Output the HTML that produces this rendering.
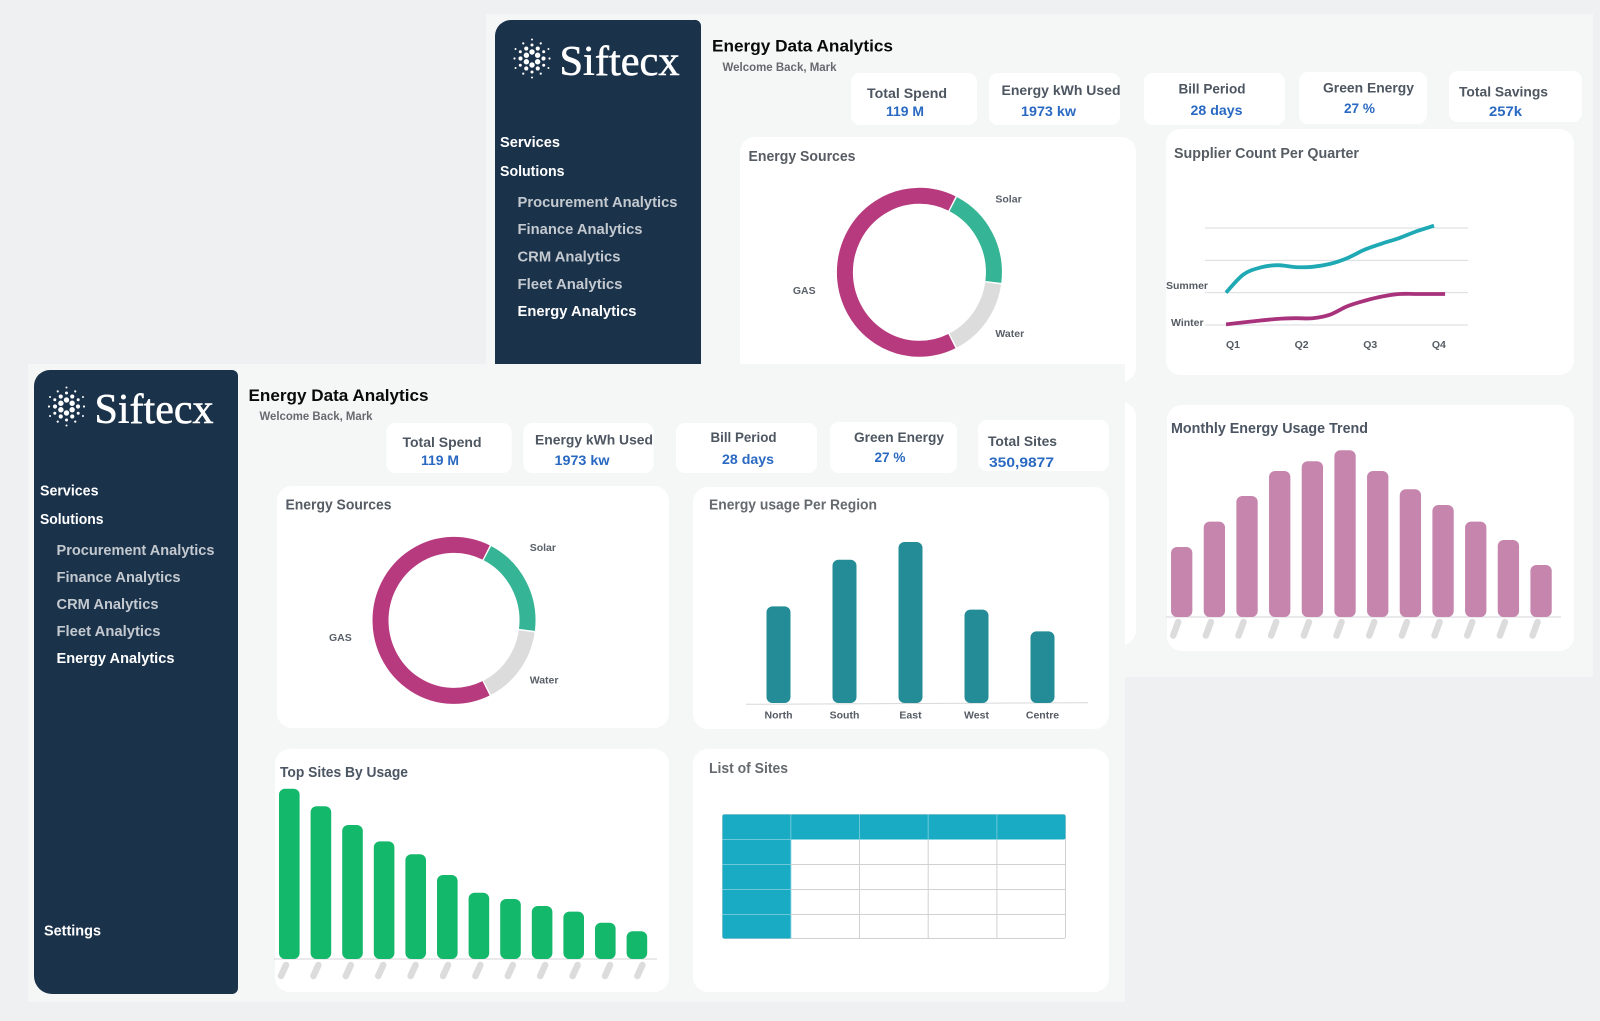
<!DOCTYPE html>
<html lang="en">
<head>
<meta charset="utf-8">
<title>Siftecx Energy Data Analytics</title>
<style>
html,body{margin:0;padding:0;background:#eef0f1;width:1600px;height:1021px;overflow:hidden}
svg{display:block}
text{font-family:"Liberation Sans",Arial,sans-serif;font-weight:700}
.nav{font-size:14.5px;fill:#ffffff}
.sub{font-size:14.5px;fill:#c3c9cf}
.on{fill:#ffffff}
.h1{font-size:17px;fill:#0a0a0a}
.wel{font-size:11.5px;fill:#666a6e}
.kl{font-size:14px;fill:#4d5661}
.kv{font-size:14px;fill:#2a69c2}
.ct{font-size:14.5px;fill:#565c63}
.dl{font-size:10.5px;fill:#5a6069}
.ax{font-size:10.5px;fill:#555b63}
.logo{font-family:"Liberation Serif",serif;font-weight:400;font-size:42px;fill:#ffffff;stroke:#ffffff;stroke-width:.55px}
</style>
</head>
<body>
<svg id="root" xmlns="http://www.w3.org/2000/svg" width="1600" height="1021" viewBox="0 0 1600 1021">
<rect x="0" y="0" width="1600" height="1021" fill="#eef0f1"/>

<!-- BACK DASHBOARD -->
<g id="back">
<rect x="486" y="14" width="1107" height="663" fill="#f5f7f7"/>
<path d="M495 365V36a16 16 0 0 1 16-16h183a6 6 0 0 1 7 6V365Z" fill="#1b324b"/>
<g id="logoBack"></g>
<text class="logo" x="559.5" y="75" textLength="120" lengthAdjust="spacingAndGlyphs">Siftecx</text>
<text class="nav" x="500" y="147" textLength="60" lengthAdjust="spacingAndGlyphs">Services</text>
<text class="nav" x="500" y="176" textLength="64.5" lengthAdjust="spacingAndGlyphs">Solutions</text>
<text class="sub" x="517.5" y="207" textLength="160" lengthAdjust="spacingAndGlyphs">Procurement Analytics</text>
<text class="sub" x="517.5" y="234" textLength="125" lengthAdjust="spacingAndGlyphs">Finance Analytics</text>
<text class="sub" x="517.5" y="261.5" textLength="103" lengthAdjust="spacingAndGlyphs">CRM Analytics</text>
<text class="sub" x="517.5" y="289" textLength="105" lengthAdjust="spacingAndGlyphs">Fleet Analytics</text>
<text class="sub on" x="517.5" y="316" textLength="119" lengthAdjust="spacingAndGlyphs">Energy Analytics</text>
<text class="h1" x="712" y="51.5" textLength="181" lengthAdjust="spacingAndGlyphs">Energy Data Analytics</text>
<text class="wel" x="722.5" y="71" textLength="114" lengthAdjust="spacingAndGlyphs">Welcome Back, Mark</text>

<rect x="851" y="73" width="126" height="52" rx="9" fill="#fff"/>
<text class="kl" x="867" y="98" textLength="80" lengthAdjust="spacingAndGlyphs">Total Spend</text>
<text class="kv" x="886" y="116" textLength="38" lengthAdjust="spacingAndGlyphs">119 M</text>
<rect x="989" y="73" width="131" height="52" rx="9" fill="#fff"/>
<text class="kl" x="1001.5" y="95" textLength="119" lengthAdjust="spacingAndGlyphs">Energy kWh Used</text>
<text class="kv" x="1021" y="116" textLength="55" lengthAdjust="spacingAndGlyphs">1973 kw</text>
<rect x="1144" y="73" width="141" height="52" rx="9" fill="#fff"/>
<text class="kl" x="1178.5" y="93.5" textLength="67" lengthAdjust="spacingAndGlyphs">Bill Period</text>
<text class="kv" x="1190.5" y="115" textLength="52" lengthAdjust="spacingAndGlyphs">28 days</text>
<rect x="1299" y="72" width="128" height="52" rx="9" fill="#fff"/>
<text class="kl" x="1323" y="92.5" textLength="91" lengthAdjust="spacingAndGlyphs">Green Energy</text>
<text class="kv" x="1344" y="113" textLength="31" lengthAdjust="spacingAndGlyphs">27 %</text>
<rect x="1449" y="71" width="133" height="51" rx="9" fill="#fff"/>
<text class="kl" x="1459" y="96.5" textLength="89" lengthAdjust="spacingAndGlyphs">Total Savings</text>
<text class="kv" x="1489" y="116" textLength="33" lengthAdjust="spacingAndGlyphs">257k</text>

<rect x="740" y="137" width="396" height="245" rx="15" fill="#fff"/>
<rect x="740" y="402" width="396" height="243" rx="15" fill="#fff"/>
<text class="ct" x="748.5" y="161" textLength="107" lengthAdjust="spacingAndGlyphs">Energy Sources</text>
<g id="donutBack"></g>

<rect x="1166" y="129" width="408" height="246" rx="15" fill="#fff"/>
<text class="ct" x="1174" y="158" textLength="185" lengthAdjust="spacingAndGlyphs">Supplier Count Per Quarter</text>
<g id="lineChart"></g>

<rect x="1167" y="405" width="407" height="246" rx="15" fill="#fff"/>
<text class="ct" x="1171" y="433" textLength="197" lengthAdjust="spacingAndGlyphs" style="fill:#4b5563">Monthly Energy Usage Trend</text>
<g id="monthlyChart"></g>
</g>

<!-- FRONT DASHBOARD -->
<g id="front">
<rect x="28" y="364" width="1097" height="638" fill="#f5f7f7"/>
<path d="M34 386a16 16 0 0 1 16-16h182a6 6 0 0 1 6 6V988a6 6 0 0 1-6 6H52a18 18 0 0 1-18-18Z" fill="#1b324b"/>
<g id="logoFront"></g>
<text class="logo" x="94.5" y="423" textLength="119" lengthAdjust="spacingAndGlyphs">Siftecx</text>
<text class="nav" x="40" y="495.5" textLength="58.5" lengthAdjust="spacingAndGlyphs">Services</text>
<text class="nav" x="40" y="524" textLength="63.5" lengthAdjust="spacingAndGlyphs">Solutions</text>
<text class="sub" x="56.5" y="555" textLength="158" lengthAdjust="spacingAndGlyphs">Procurement Analytics</text>
<text class="sub" x="56.5" y="582" textLength="124" lengthAdjust="spacingAndGlyphs">Finance Analytics</text>
<text class="sub" x="56.5" y="609" textLength="102" lengthAdjust="spacingAndGlyphs">CRM Analytics</text>
<text class="sub" x="56.5" y="636" textLength="104" lengthAdjust="spacingAndGlyphs">Fleet Analytics</text>
<text class="sub on" x="56.5" y="663" textLength="118" lengthAdjust="spacingAndGlyphs">Energy Analytics</text>
<text class="nav" x="44" y="935.5" textLength="57" lengthAdjust="spacingAndGlyphs">Settings</text>
<text class="h1" x="248.5" y="401" textLength="180" lengthAdjust="spacingAndGlyphs">Energy Data Analytics</text>
<text class="wel" x="259.5" y="420" textLength="113" lengthAdjust="spacingAndGlyphs">Welcome Back, Mark</text>

<rect x="386.5" y="423" width="125" height="50" rx="9" fill="#fff"/>
<text class="kl" x="402.5" y="447" textLength="79" lengthAdjust="spacingAndGlyphs">Total Spend</text>
<text class="kv" x="421" y="465" textLength="38" lengthAdjust="spacingAndGlyphs">119 M</text>
<rect x="523.5" y="423" width="130" height="50" rx="9" fill="#fff"/>
<text class="kl" x="535" y="444.5" textLength="118" lengthAdjust="spacingAndGlyphs">Energy kWh Used</text>
<text class="kv" x="554.5" y="465" textLength="55" lengthAdjust="spacingAndGlyphs">1973 kw</text>
<rect x="676" y="423" width="141" height="50" rx="9" fill="#fff"/>
<text class="kl" x="710.5" y="442" textLength="66" lengthAdjust="spacingAndGlyphs">Bill Period</text>
<text class="kv" x="722" y="464" textLength="52" lengthAdjust="spacingAndGlyphs">28 days</text>
<rect x="830" y="422" width="127" height="51" rx="9" fill="#fff"/>
<text class="kl" x="854" y="442" textLength="90" lengthAdjust="spacingAndGlyphs">Green Energy</text>
<text class="kv" x="874.5" y="462" textLength="31" lengthAdjust="spacingAndGlyphs">27 %</text>
<rect x="978" y="420" width="131" height="51" rx="9" fill="#fff"/>
<text class="kl" x="988" y="446" textLength="69" lengthAdjust="spacingAndGlyphs">Total Sites</text>
<text class="kv" x="989" y="467" textLength="65" lengthAdjust="spacingAndGlyphs">350,9877</text>

<rect x="277" y="486" width="392" height="242" rx="15" fill="#fff"/>
<text class="ct" x="285.5" y="509.5" textLength="106" lengthAdjust="spacingAndGlyphs">Energy Sources</text>
<g id="donutFront"></g>

<rect x="693" y="487" width="416" height="242" rx="15" fill="#fff"/>
<text class="ct" x="709" y="509.5" textLength="168" lengthAdjust="spacingAndGlyphs" style="fill:#666a6e">Energy usage Per Region</text>
<g id="regionChart"></g>

<rect x="275" y="749" width="394" height="243" rx="15" fill="#fff"/>
<text class="ct" x="280" y="777" textLength="128" lengthAdjust="spacingAndGlyphs" style="fill:#4b5563">Top Sites By Usage</text>
<g id="sitesChart"></g>

<rect x="693" y="749" width="416" height="243" rx="15" fill="#fff"/>
<text class="ct" x="709" y="773" textLength="79" lengthAdjust="spacingAndGlyphs" style="fill:#666a6e">List of Sites</text>
<g id="sitesTable"></g>
</g>
</svg>

<script>
/* ---------- chart data ---------- */
var donutLabels = ['Solar', 'Water', 'GAS'];
var donutValues = [19.8, 15.5, 64.7];
var quarterLabels = ['Q1', 'Q2', 'Q3', 'Q4'];
var seriesLabels = ['Summer', 'Winter'];
var summerQuarters = [1, 1.25, 1.5, 1.75, 2, 2.25, 2.5, 2.75, 3, 3.25, 3.5, 3.75, 4];
var summerCounts = [20.0, 25.6, 27.8, 28.5, 27.9, 28.0, 28.9, 30.7, 33.3, 35.2, 36.9, 39.0, 40.7];
var winterQuarters = [1, 1.25, 1.5, 1.75, 2, 2.25, 2.5, 2.75, 3, 3.25, 3.5, 3.75, 4, 4.16];
var winterCounts = [10.2, 10.8, 11.4, 11.9, 12.1, 12.1, 13.2, 15.8, 17.5, 18.8, 19.6, 19.6, 19.6, 19.6];
var gridCounts = [10, 20, 30, 40];
var monthlyUsage = [42, 57.2, 72.6, 87.6, 93.4, 100, 87.6, 76.6, 67.2, 57.2, 46.2, 31.2];
var regionLabels = ['North', 'South', 'East', 'West', 'Centre'];
var regionUsage = [60, 89, 100, 58, 44.5];
var siteUsage = [100, 89.7, 78.7, 69.1, 61.5, 49.3, 38.9, 35.2, 31.1, 27.8, 21.3, 16.3];

/* ---------- helpers ---------- */
var NS = 'http://www.w3.org/2000/svg';
function mk(tag, attrs, parent) {
  var el = document.createElementNS(NS, tag);
  for (var k in attrs) { el.setAttribute(k, attrs[k]); }
  parent.appendChild(el);
  return el;
}

/* ---------- logo marks ---------- */
function drawLogo(id, cx, cy) {
  var g = document.getElementById(id);
  var rings = [[6.5, 6, 2.7, 30], [11.5, 6, 2.1, 0], [13.5, 6, 1.5, 30], [17.5, 6, 1.1, 0], [19, 6, 1.0, 30]];
  rings.forEach(function (ring) {
    for (var i = 0; i < ring[1]; i++) {
      var a = (ring[3] + i * 360 / ring[1]) * Math.PI / 180;
      var dot = mk('circle', { cx: cx + ring[0] * Math.cos(a), cy: cy + ring[0] * Math.sin(a), r: ring[2], fill: '#ffffff' }, g);
      
      
    }
  });
}
drawLogo('logoBack', 532, 58.5);
drawLogo('logoFront', 66.5, 406.5);

/* ---------- donut charts ---------- */
var donutColors = ['#36b496', '#dcdcdc', '#b73a7e'];
function drawDonut(id, cx, cy, rx, ry, labelAnchors) {
  var g = document.getElementById(id);
  var total = donutValues.reduce(function (a, b) { return a + b; }, 0);
  var angle = 26.5;
  function pt(deg) {
    var t = deg * Math.PI / 180;
    return (cx + rx * Math.sin(t)) + ' ' + (cy - ry * Math.cos(t));
  }
  donutValues.forEach(function (v, i) {
    var sweep = v / total * 360;
    var d = 'M' + pt(angle + 0.55) + 'A' + rx + ' ' + ry + ' 0 ' + (sweep > 180 ? 1 : 0) + ' 1 ' + pt(angle + sweep - 0.55);
    var arc = mk('path', { d: d, fill: 'none', stroke: donutColors[i], 'stroke-width': 16 }, g);
    
    
    angle += sweep;
  });
  donutLabels.forEach(function (name, i) {
    var t = mk('text', { x: cx + labelAnchors[i][0], y: cy + labelAnchors[i][1], 'class': 'dl' }, g);
    t.textContent = name;
    
    
  });
}
drawDonut('donutBack', 919.4, 272.3, 74.5, 76.5, [[76, -70], [76, 64.5], [-126.5, 21.5]]);
drawDonut('donutFront', 454, 620.4, 73.5, 75.5, [[75.7, -69.5], [75.7, 63], [-125, 20.7]]);

/* ---------- line chart ---------- */
(function () {
  var g = document.getElementById('lineChart');
  function x(q) { return 1226 + (q - 1) * 69.33; }
  function y(v) { return 325 - (v - 10) * 3.233; }
  gridCounts.forEach(function (c) {
    var line = mk('line', { x1: 1205, x2: 1468, y1: y(c), y2: y(c), stroke: '#d9dbdd', 'stroke-width': 1 }, g);
    
    
  });
  quarterLabels.forEach(function (q, i) {
    var t = mk('text', { x: x(i + 1) - i * 0.7, y: 348, 'class': 'ax' }, g);
    t.textContent = q;
    
    
  });
  var seriesY = [289, 326];
  var seriesX = [1166, 1171];
  seriesLabels.forEach(function (s, i) {
    var t = mk('text', { x: seriesX[i], y: seriesY[i], 'class': 'ax' }, g);
    t.textContent = s;
    
    
  });
  function smooth(qs, vs) {
    var p = qs.map(function (q, i) { return [x(q), y(vs[i])]; });
    var d = 'M' + p[0][0] + ' ' + p[0][1];
    for (var i = 0; i < p.length - 1; i++) {
      var a = p[i - 1] || p[i], b = p[i], c = p[i + 1], e = p[i + 2] || c;
      d += 'C' + (b[0] + (c[0] - a[0]) / 6) + ' ' + (b[1] + (c[1] - a[1]) / 6) + ' ' +
           (c[0] - (e[0] - b[0]) / 6) + ' ' + (c[1] - (e[1] - b[1]) / 6) + ' ' + c[0] + ' ' + c[1];
    }
    return d;
  }
  var s1 = mk('path', { d: smooth(summerQuarters, summerCounts), fill: 'none', stroke: '#1ea9b4', 'stroke-width': 3.8 }, g);
  
  
  var s2 = mk('path', { d: smooth(winterQuarters, winterCounts), fill: 'none', stroke: '#a8337c', 'stroke-width': 3.8 }, g);
  
  
})();

/* ---------- bar charts with placeholder slanted tick labels ---------- */
function drawBars(id, values, o) {
  var g = document.getElementById(id);
  var axis = mk('line', { x1: o.axisX1, x2: o.axisX2, y1: o.base, y2: o.base, stroke: '#d4d6d8', 'stroke-width': 1 }, g);
  
  
  values.forEach(function (v, i) {
    var cx = o.first + i * o.step;
    var h = v * o.unit;
    var bar = mk('rect', { x: cx - o.width / 2, y: o.base - h, width: o.width, height: h, rx: 6, fill: o.color }, g);
    
    
    var px = o.pillFirst + i * o.pillStep;
    var pill = mk('line', { x1: px + 2.5, y1: o.pillTop, x2: px - 2.5, y2: o.pillBottom, stroke: '#dcdcdc', 'stroke-width': 6.5, 'stroke-linecap': 'round' }, g);
    
    
  });
}
drawBars('monthlyChart', monthlyUsage, {
  base: 617, unit: 1.667, first: 1181.7, step: 32.67, width: 21.3, color: '#c585ac',
  axisX1: 1166, axisX2: 1561, pillFirst: 1175.7, pillStep: 32.67, pillTop: 622, pillBottom: 635.5
});
drawBars('sitesChart', siteUsage, {
  base: 959, unit: 1.703, first: 289.3, step: 31.6, width: 20.6, color: '#14b86a',
  axisX1: 274, axisX2: 657, pillFirst: 283.5, pillStep: 32.4, pillTop: 965, pillBottom: 976
});

/* ---------- region bars ---------- */
(function () {
  var g = document.getElementById('regionChart');
  var base = 703;
  var axis = mk('line', { x1: 746, y1: 704.3, x2: 1088, y2: 702.7, stroke: '#d6d8da', 'stroke-width': 1 }, g);
  
  
  regionUsage.forEach(function (v, i) {
    var cx = 778.5 + i * 66;
    var h = v * 1.61;
    var bar = mk('rect', { x: cx - 12, y: base - h, width: 24, height: h, rx: 6, fill: '#238c96' }, g);
    
    
    var t = mk('text', { x: cx, y: 718.5, 'text-anchor': 'middle', 'class': 'ax' }, g);
    t.textContent = regionLabels[i];
    
    
  });
})();

/* ---------- sites table ---------- */
(function () {
  var g = document.getElementById('sitesTable');
  var L = 722.5, R = 1065.5, T = 814.5, B = 938.5, colW = 68.7, rowH = 25, headW = 68.3;
  var body = mk('rect', { x: L, y: T, width: R - L, height: B - T, rx: 2, fill: '#ffffff', stroke: '#cfd1d3', 'stroke-width': 1 }, g);
  
  
  var head = mk('rect', { x: L, y: T, width: R - L, height: rowH, rx: 2, fill: '#1aabc4' }, g);
  
  
  var side = mk('rect', { x: L, y: T, width: headW, height: B - T, rx: 2, fill: '#1aabc4' }, g);
  
  
  for (var c = 1; c <= 4; c++) {
    var cx = L + headW + (c - 1) * colW;
    var c1 = mk('line', { x1: cx, x2: cx, y1: T, y2: T + rowH, stroke: '#6cc8d8', 'stroke-width': 1 }, g);
    
    
    var c2 = mk('line', { x1: cx, x2: cx, y1: T + rowH, y2: B, stroke: c === 1 ? '#6cc8d8' : '#cfd1d3', 'stroke-width': 1 }, g);
    
    
  }
  for (var r = 1; r <= 4; r++) {
    var ry = T + r * rowH;
    var r1 = mk('line', { x1: L, x2: L + headW, y1: ry, y2: ry, stroke: '#6cc8d8', 'stroke-width': 1 }, g);
    
    
    if (r > 1) {
      var r2 = mk('line', { x1: L + headW, x2: R, y1: ry, y2: ry, stroke: '#cfd1d3', 'stroke-width': 1 }, g);
      
      
    }
  }
})();
</script>
</body>
</html>
